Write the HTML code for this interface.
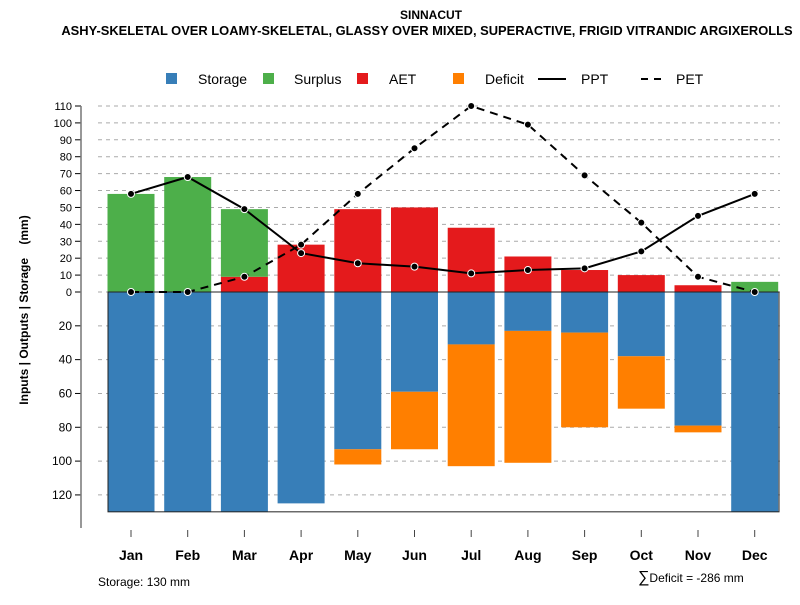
<!DOCTYPE html>
<html><head><meta charset="utf-8"><style>
body{margin:0;background:#fff;font-family:"Liberation Sans",sans-serif}
svg text{font-family:"Liberation Sans",sans-serif}
</style></head><body>
<svg id="c" width="800" height="600" xmlns="http://www.w3.org/2000/svg">
<text x="431" y="19" font-size="12" font-weight="bold" text-anchor="middle">SINNACUT</text>
<text x="427" y="35" font-size="12.9" font-weight="bold" text-anchor="middle">ASHY-SKELETAL OVER LOAMY-SKELETAL, GLASSY OVER MIXED, SUPERACTIVE, FRIGID VITRANDIC ARGIXEROLLS</text>
<g font-size="14">
<rect x="166" y="73" width="11" height="11" fill="#377EB8"/><text x="198" y="84">Storage</text>
<rect x="263" y="73" width="11" height="11" fill="#4DAF4A"/><text x="294" y="84">Surplus</text>
<rect x="357" y="73" width="11" height="11" fill="#E41A1C"/><text x="389" y="84">AET</text>
<rect x="453" y="73" width="11" height="11" fill="#FF7F00"/><text x="485" y="84">Deficit</text>
<line x1="538" y1="79" x2="566" y2="79" stroke="#000" stroke-width="2"/><text x="581" y="84">PPT</text>
<line x1="641" y1="79" x2="667" y2="79" stroke="#000" stroke-width="2" stroke-dasharray="7,6"/><text x="676" y="84">PET</text>
</g>
<text transform="translate(28,310) rotate(-90)" font-size="12" font-weight="bold" text-anchor="middle">Inputs | Outputs | Storage&#160;&#160;&#160;&#160;(mm)</text>
<g id="plot"></g>
<text x="98" y="586" font-size="12">Storage: 130 mm</text>
<text x="638" y="582" font-size="12"><tspan font-size="16">∑</tspan>Deficit = -286 mm</text>
</svg>
<script>
const months=["Jan","Feb","Mar","Apr","May","Jun","Jul","Aug","Sep","Oct","Nov","Dec"];
const storage=[130,130,130,125,93,59,31,23,24,38,79,130];
const deficit=[0,0,0,0,9,34,72,78,56,31,4,0];
const aet=[0,0,9,28,49,50,38,21,13,10,4,0];
const surplus=[58,68,40,0,0,0,0,0,0,0,0,6];
const ppt=[58,68,49,23,17,15,11,13,14,24,45,58];
const pet=[0,0,9,28,58,85,110,99,69,41,9,0];
const posTicks=[0,10,20,30,40,50,60,70,80,90,100,110];
const negTicks=[20,40,60,80,100,120];
const NS="http://www.w3.org/2000/svg",g=document.getElementById('plot');
const y=v=>292-v*1.691, x=i=>131+i*56.7, bw=47;
function mk(t,a){const e=document.createElementNS(NS,t);for(const k in a)e.setAttribute(k,a[k]);g.appendChild(e);return e;}
[...posTicks.map(v=>v),...negTicks.map(v=>-v)].forEach(v=>{
 const l=mk('line',{x1:98,x2:780,y1:y(v),y2:y(v),stroke:'#aaa','stroke-dasharray':'4,4'});
 
 const t=mk('line',{x1:75,x2:81,y1:y(v),y2:y(v),stroke:'#000'});
 
 const tx=mk('text',{x:72,y:y(v)+4,'font-size':v>=0?11:12,'text-anchor':'end'});tx.textContent=Math.abs(v);
 
});
const ax=mk('line',{x1:81,x2:81,y1:y(110),y2:528,stroke:'#777','stroke-width':1.5});

months.forEach((m,i)=>{
 const cx=x(i),L=cx-bw/2;
 const r=(n,y0,y1,c)=>{if(y1<=y0)return;const e=mk('rect',{x:L,y:y0,width:bw,height:y1-y0,fill:c});};
 r('storage',y(0),y(-storage[i]),'#377EB8');
 r('deficit',y(-storage[i]),y(-storage[i]-deficit[i]),'#FF7F00');
 r('aet',y(aet[i]),y(0),'#E41A1C');
 r('surplus',y(aet[i]+surplus[i]),y(aet[i]),'#4DAF4A');
 const tk=mk('line',{x1:cx,x2:cx,y1:530,y2:537,stroke:'#444'});
 const t=mk('text',{x:cx,y:560,'font-size':14,'font-weight':'bold','text-anchor':'middle'});t.textContent=m;
 
});
const box=mk('rect',{x:108,y:y(0),width:671,height:y(-130)-y(0),fill:'none',stroke:'#222'});

const pl=mk('polyline',{points:ppt.map((v,i)=>x(i)+','+y(v)).join(' '),fill:'none',stroke:'#000','stroke-width':2});

const el=mk('polyline',{points:pet.map((v,i)=>x(i)+','+y(v)).join(' '),fill:'none',stroke:'#000','stroke-width':2,'stroke-dasharray':'8,6'});

[ppt,pet].forEach((s,k)=>s.forEach((v,i)=>{const c=mk('circle',{cx:x(i),cy:y(v),r:3.5,fill:'#000',stroke:'#fff','stroke-width':1});
 }));
</script>
</body></html>
